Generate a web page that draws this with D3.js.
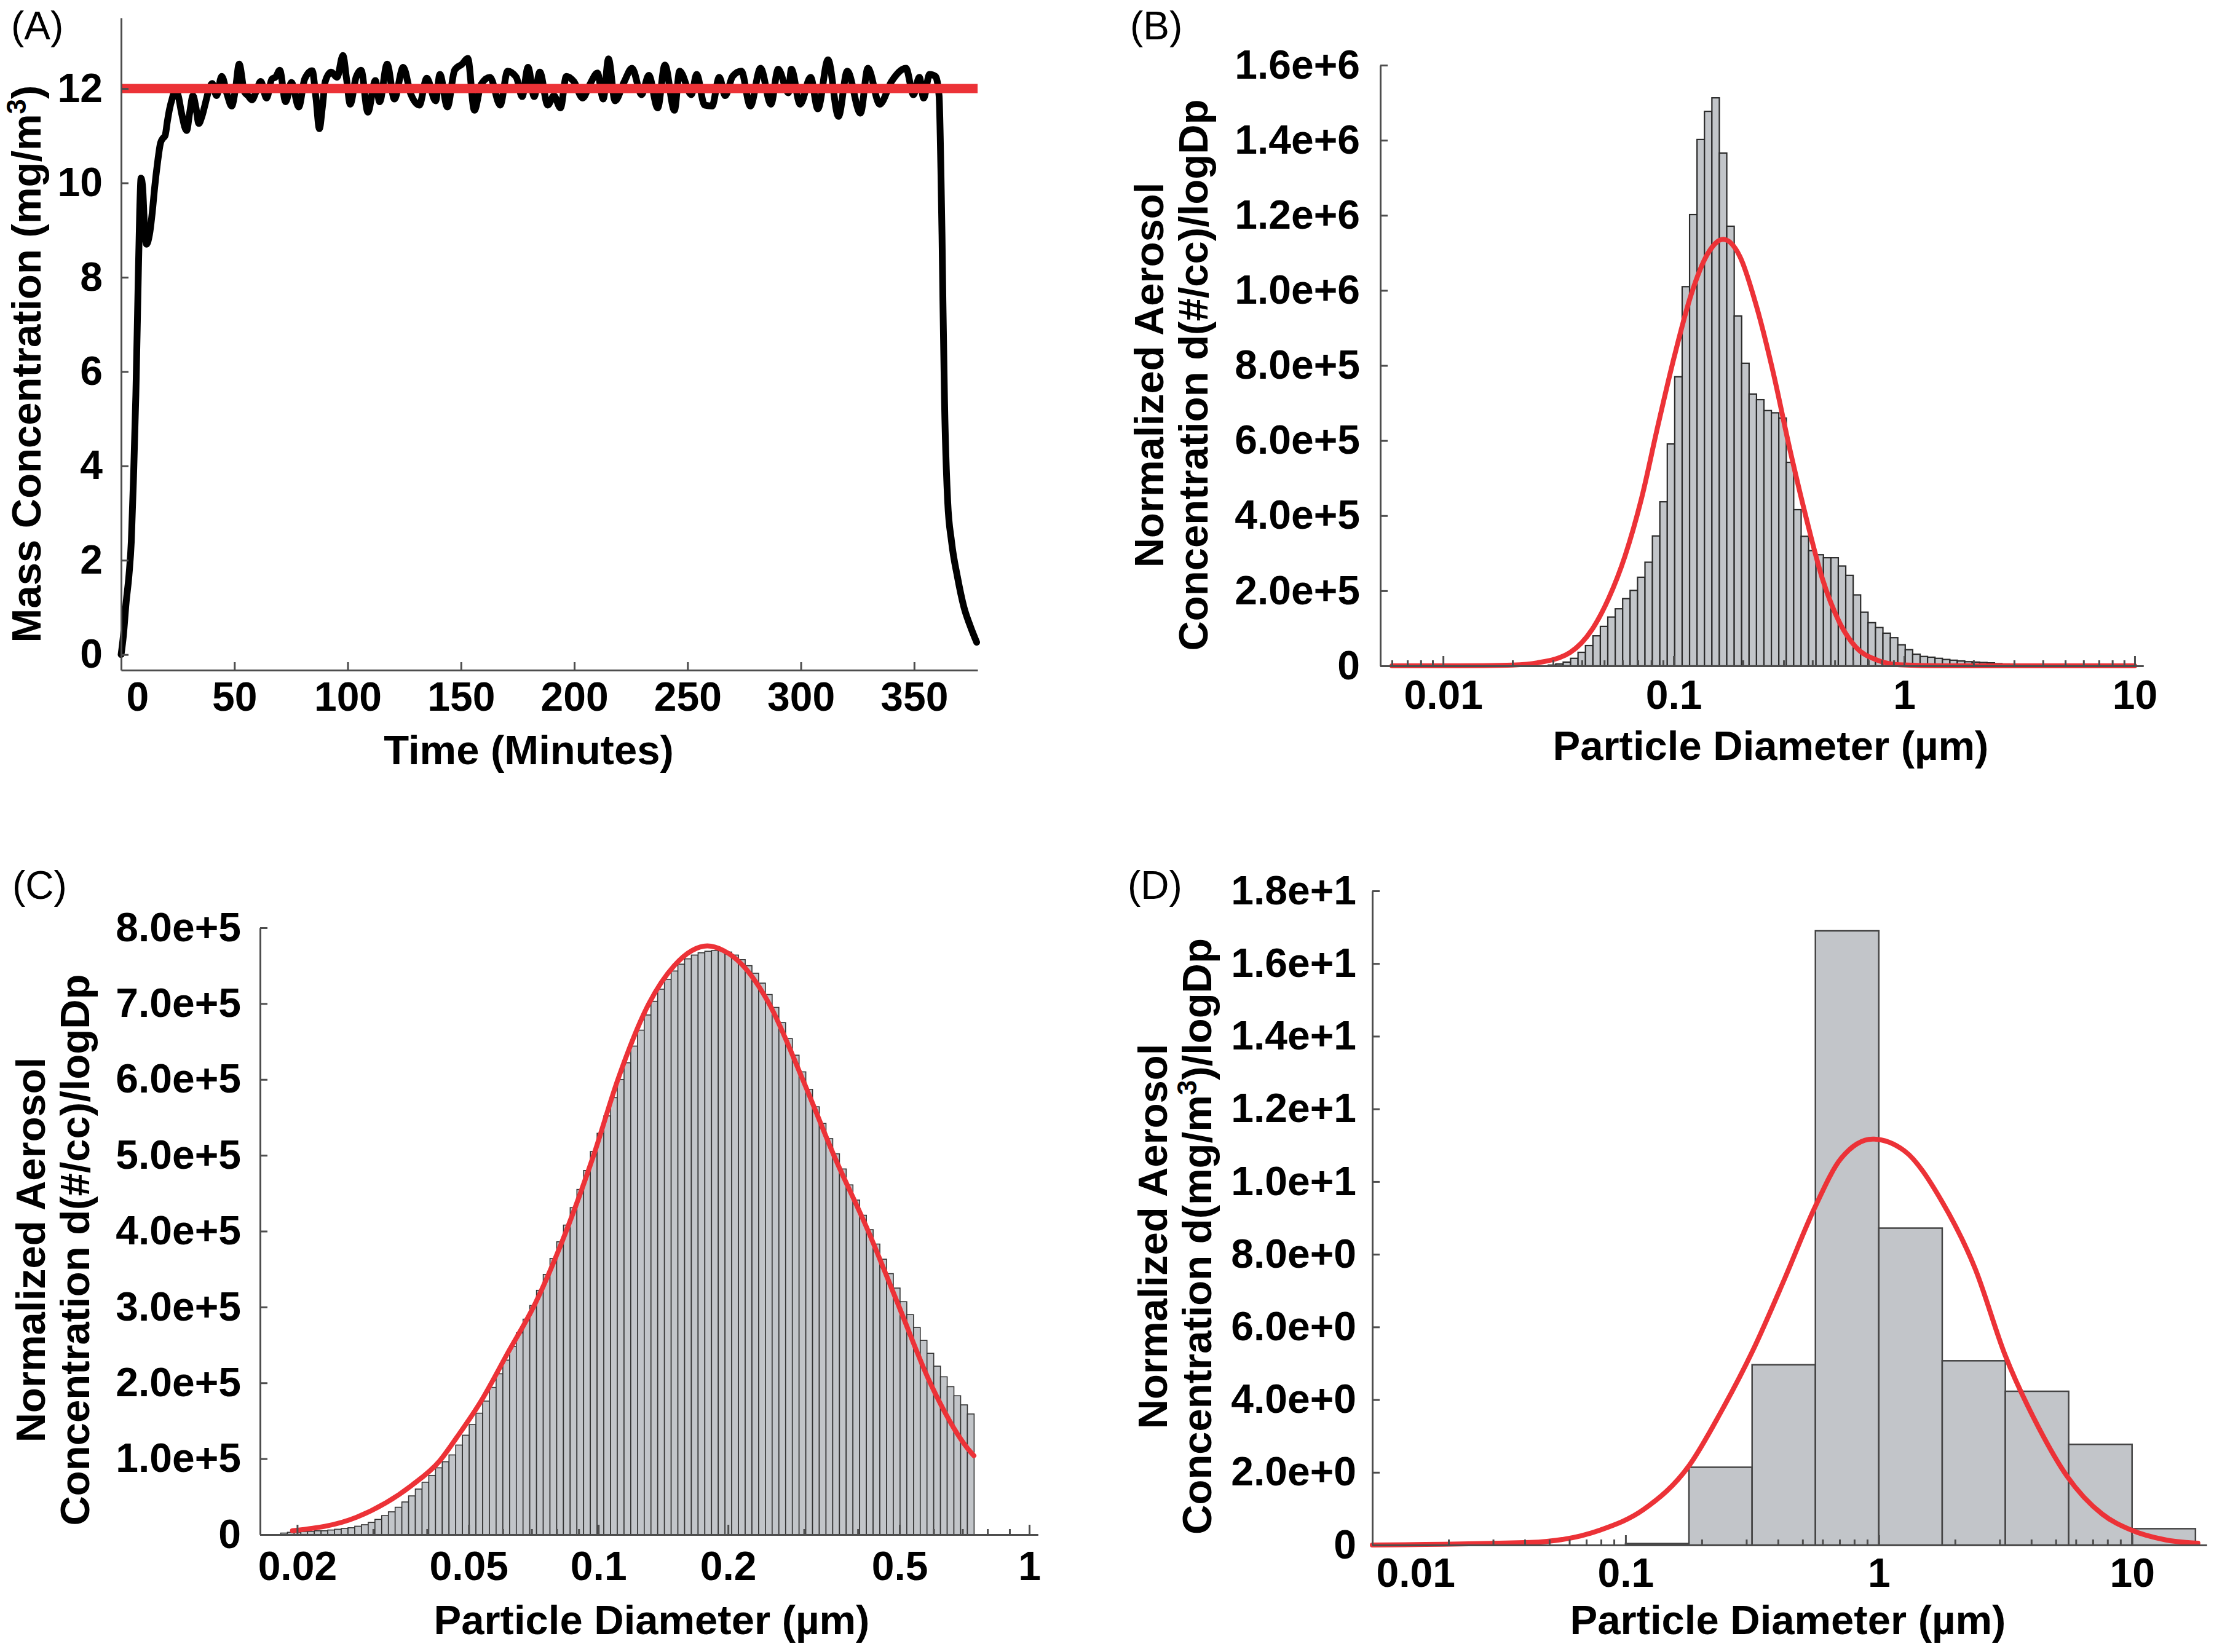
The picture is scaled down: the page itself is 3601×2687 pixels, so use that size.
<!DOCTYPE html>
<html>
<head>
<meta charset="utf-8">
<script src="https://cdn.jsdelivr.net/npm/d3@7"></script>
<style>
  body { margin: 0; background: #fff; }
  svg { display: block; background: #fff; font-family: "Liberation Sans", Arial, sans-serif; }
  .axis path, .axis line { stroke: #4d4d4d; stroke-width: 3; }
  .axis text { font-family: "Liberation Sans", Arial, sans-serif; font-size: 66px; font-weight: bold; fill: #000; }
  .title { font-size: 67px; font-weight: bold; fill: #000; }
  .plabel { font-size: 64px; fill: #000; }
</style>
</head>
<body>
<svg id="fig" width="3601" height="2687"></svg>
<script>
// ---------- (A) mass concentration vs time ----------
const timeMin = [0, 1.0, 2.2, 3.5, 4.5, 5.5, 6.5, 7.4, 8.2, 8.8, 9.5, 10.3, 11.2, 12.5, 13.8, 14.8, 16.0, 17.4, 18.5, 19.4,
  20.4, 21.3, 22.6, 23.9, 25.2, 26.8, 28.9, 30.3, 31.7, 33.0, 34.3, 35.6, 36.9, 38.6, 40.2, 42.1, 44.4, 46.7, 48.8, 50.5,
  52.1, 54.4, 56.0, 57.7, 59.7, 61.6, 64.2, 66.5, 68.3, 70.0, 72.6, 75.2, 78.4, 81.0, 84.3, 86.0, 87.5, 88.8, 90.1, 92.7,
  95.3, 97.9, 99.5, 101.1, 103.7, 105.9, 108.9, 112.2, 114.1, 117.4, 120.6, 124.5, 127.8, 131.6, 134.9, 138.8, 140.7, 144.0,
  147.2, 150.5, 153.0, 155.9, 158.9, 162.8, 167.3, 170.6, 174.4, 177.0, 179.6, 182.3, 184.8, 188.3, 191.0, 193.9, 196.5,
  199.8, 203.7, 206.9, 210.2, 212.8, 215.1, 218.0, 221.9, 225.5, 229.7, 232.9, 236.8, 240.0, 244.2, 246.5, 251.7, 254.0,
  257.5, 260.8, 264.0, 266.6, 269.9, 273.7, 277.7, 282.2, 286.8, 290.0, 294.5, 295.8, 299.7, 304.3, 307.5, 312.0, 316.6,
  320.5, 326.3, 329.6, 334.8, 340.0, 346.4, 349.7, 352.3, 354.2, 356.8, 359.4, 361.0, 361.8, 362.3, 362.7, 363.4, 364.8,
  366.5, 369.1, 372.0, 374.8, 377.6];
const massConc = [0.0, 0.4, 1.1, 1.7, 2.4, 3.8, 5.5, 7.6, 9.4, 10.1, 9.9, 9.1, 8.7, 8.9, 9.4, 9.9, 10.4, 10.85, 10.95, 11.0,
  11.3, 11.55, 11.8, 11.98, 11.85, 11.45, 11.11, 11.5, 11.85, 11.6, 11.26, 11.4, 11.63, 11.95, 12.11, 11.85, 12.26, 11.89, 11.63, 12.0,
  12.52, 11.93, 11.85, 11.76, 11.95, 12.15, 11.80, 12.2, 12.25, 12.39, 11.72, 12.13, 11.61, 12.2, 12.38, 11.8, 11.15, 11.6, 12.15, 12.35,
  12.24, 12.70, 12.2, 11.67, 12.24, 12.39, 11.50, 12.17, 11.72, 12.52, 11.78, 12.45, 11.89, 11.65, 12.22, 11.74, 12.30, 11.61,
  12.39, 12.52, 12.64, 11.54, 12.09, 12.24, 11.65, 12.37, 12.24, 11.83, 12.45, 11.83, 12.35, 11.65, 11.85, 11.59, 12.26,
  12.15, 11.80, 12.09, 12.33, 11.78, 12.63, 11.74, 12.13, 12.43, 11.87, 12.28, 11.59, 12.50, 11.54, 12.37, 11.87, 12.30,
  11.65, 11.63, 12.24, 11.85, 12.26, 12.37, 11.63, 12.43, 11.67, 12.41, 11.91, 12.41, 11.67, 12.24, 11.57, 12.61, 11.41,
  12.37, 11.48, 12.43, 11.67, 12.15, 12.43, 11.87, 12.24, 11.80, 12.30, 12.26, 11.85, 10.3, 8.9, 7.5, 5.4, 3.25,
  2.4, 1.65, 1.0, 0.6, 0.26];
const targetConc = 12;
const timeTicks = [0, 50, 100, 150, 200, 250, 300, 350];
const massTicks = [0, 2, 4, 6, 8, 10, 12];

// ---------- (B) number size distribution, 1e5 #/cc units ----------
const bFirstEdge = 0.0286;
const bBinsPerDecade = 31;
const bCounts = [0.02, 0.05, 0.10, 0.20, 0.36, 0.54, 0.80, 1.05, 1.30, 1.52, 1.79, 2.01, 2.36, 2.76, 3.46, 4.37,
  5.91, 7.70, 10.10, 12.02, 14.02, 14.77, 15.13, 13.66, 11.71, 9.32, 8.06, 7.24, 7.09, 6.80, 6.74, 6.60, 5.42,
  4.16, 3.45, 3.07, 2.96, 2.88, 2.88, 2.66, 2.41, 1.89, 1.43, 1.15, 1.02, 0.87, 0.75, 0.56, 0.43, 0.31, 0.25,
  0.23, 0.20, 0.17, 0.15, 0.13, 0.11, 0.10, 0.09, 0.08, 0.06, 0.05, 0.04, 0.03, 0.02];
const bFitDp = [0.006, 0.010, 0.015, 0.020, 0.0256, 0.0356, 0.0443, 0.0522, 0.0615, 0.0725, 0.0855, 0.1007, 0.119,
  0.140, 0.164, 0.194, 0.229, 0.270, 0.319, 0.376, 0.443, 0.522, 0.615, 0.766, 0.953, 1.5, 3, 10];
const bFitVal = [0, 0, 0.005, 0.02, 0.08, 0.36, 0.97, 1.79, 2.92, 4.45, 6.40, 8.24, 9.88,
  10.96, 11.36, 10.90, 9.57, 7.83, 5.78, 3.94, 2.30, 1.18, 0.51, 0.15, 0.03, 0, 0, 0];
const bTicksX = [0.01, 0.1, 1, 10];
const bTicksY = [0, 2, 4, 6, 8, 10, 12, 14, 16];

// ---------- (C) number size distribution, 1e5 #/cc units ----------
const cFirstEdge = 0.01831;
const cBinsPerDecade = 64;
const cCounts = [0.02, 0.03, 0.03, 0.04, 0.04, 0.05, 0.05, 0.06, 0.07, 0.08,
  0.09, 0.11, 0.13, 0.16, 0.20, 0.25, 0.30, 0.36, 0.43, 0.51,
  0.60, 0.69, 0.78, 0.88, 0.96, 1.05, 1.18, 1.31, 1.45, 1.60,
  1.76, 1.94, 2.12, 2.30, 2.48, 2.66, 2.84, 3.02, 3.22, 3.43,
  3.64, 3.86, 4.08, 4.31, 4.55, 4.80, 5.05, 5.29, 5.52, 5.76,
  6.00, 6.22, 6.44, 6.65, 6.85, 7.03, 7.19, 7.32, 7.43, 7.52,
  7.59, 7.64, 7.67, 7.69, 7.70, 7.70, 7.68, 7.64, 7.58, 7.50,
  7.40, 7.27, 7.12, 6.95, 6.75, 6.54, 6.32, 6.10, 5.87, 5.64,
  5.42, 5.22, 5.02, 4.82, 4.61, 4.41, 4.21, 4.02, 3.83, 3.63,
  3.44, 3.25, 3.07, 2.90, 2.73, 2.56, 2.39, 2.22, 2.08, 1.95,
  1.83, 1.71, 1.59];
const cFitDp = [0.0195, 0.0275, 0.0369, 0.0428, 0.0469, 0.0533, 0.0617, 0.0714, 0.0842, 0.0975, 0.111, 0.131, 0.150, 0.165,
  0.179, 0.195, 0.215, 0.249, 0.298, 0.352, 0.423, 0.499, 0.589, 0.733, 0.744];
const cFitVal = [0.05, 0.23, 0.65, 0.97, 1.28, 1.75, 2.40, 3.05, 4.0, 5.0, 6.0, 7.0, 7.5, 7.70,
  7.76, 7.70, 7.52, 7.0, 6.0, 5.0, 4.0, 3.0, 2.0, 1.08, 1.04];
const cTicksX = [0.02, 0.05, 0.1, 0.2, 0.5, 1];
const cTicksY = [0, 1, 2, 3, 4, 5, 6, 7, 8];

// ---------- (D) mass size distribution, mg/m3 ----------
const dEdges = [0.1, 0.178, 0.316, 0.562, 1, 1.78, 3.16, 5.62, 10, 17.8];
const dMass = [0.04, 2.14, 4.96, 16.9, 8.72, 5.07, 4.23, 2.77, 0.45];
const dFitDp = [0.01, 0.042, 0.080, 0.118, 0.178, 0.238, 0.318, 0.425, 0.560, 0.710, 0.946, 1.26, 1.78,
  2.40, 3.16, 4.28, 5.53, 7.63, 9.86, 13.6, 18.2];
const dFitVal = [0, 0.07, 0.42, 0.98, 2.18, 3.66, 5.35, 7.33, 9.30, 10.64, 11.17, 10.85, 9.44,
  7.61, 5.21, 3.23, 1.90, 0.85, 0.42, 0.14, 0.05];
const dTicksX = [0.01, 0.1, 1, 10];
const dTicksY = [0, 2, 4, 6, 8, 10, 12, 14, 16, 18];

const svg = d3.select("#fig");
const red = "#ec3237";
const barFill = "#c2c5c9";
const sci = k => v => v === 0 ? "0" : (v * k).toExponential(1);

function panelLabel(txt, x, y) {
  svg.append("text").attr("class", "plabel").attr("x", x).attr("y", y).text(txt);
}

function yTitle(lines, x0, yc) {
  lines.forEach((parts, i) => {
    const t = svg.append("text").attr("class", "title")
      .attr("transform", `translate(${x0 + i * 72},${yc}) rotate(-90)`)
      .attr("text-anchor", "middle");
    parts.forEach(p => {
      const s = t.append("tspan").text(p.t);
      if (p.sup) s.attr("baseline-shift", "super").attr("font-size", "44px");
    });
  });
}

function xTitle(txt, xc, y) {
  svg.append("text").attr("class", "title").attr("x", xc).attr("y", y)
    .attr("text-anchor", "middle").text(txt);
}

// ---------- panel A ----------
{
  const x = d3.scaleLinear().domain([0, 378]).range([197, 1590]);
  const y = d3.scaleLinear().domain([-0.33, 13.5]).range([1090, 29]);
  const series = timeMin.map((t, i) => [t, massConc[i]]);

  svg.append("path").datum(series)
    .attr("d", d3.line().x(d => x(d[0])).y(d => y(d[1])).curve(d3.curveMonotoneX))
    .attr("fill", "none").attr("stroke", "#000").attr("stroke-width", 11)
    .attr("stroke-linejoin", "round").attr("stroke-linecap", "round");

  svg.append("line")
    .attr("x1", x(0)).attr("x2", x(378)).attr("y1", y(targetConc)).attr("y2", y(targetConc))
    .attr("stroke", red).attr("stroke-width", 15);

  const gx = svg.append("g").attr("class", "axis").attr("transform", `translate(0,${y(-0.33)})`)
    .call(d3.axisBottom(x).tickValues(timeTicks).tickSizeInner(-13).tickSizeOuter(0).tickPadding(19));
  gx.select(".tick text").attr("text-anchor", "start").attr("x", 8);
  svg.append("g").attr("class", "axis").attr("transform", `translate(${x(0)},0)`)
    .call(d3.axisLeft(y).tickValues(massTicks).tickSizeInner(-12).tickSizeOuter(0).tickPadding(30));

  panelLabel("(A)", 18, 64);
  xTitle("Time (Minutes)", 860, 1243);
  yTitle([[{t: "Mass Concentration (mg/m"}, {t: "3", sup: true}, {t: ")"}]], 66, 592);
}

// ---------- histogram panels ----------
function histPanel(p) {
  const x = d3.scaleLog().domain(p.xDomain).range(p.xRange);
  const y = d3.scaleLinear().domain(p.yDomain).range(p.yRange);

  svg.append("g").selectAll("rect").data(p.bins).join("rect")
    .attr("x", d => x(d.lo)).attr("width", d => x(d.hi) - x(d.lo))
    .attr("y", d => y(d.v)).attr("height", d => y(0) - y(d.v))
    .attr("fill", barFill).attr("stroke", p.barStroke).attr("stroke-width", p.barStrokeW);

  svg.append("path").datum(p.fit)
    .attr("d", d3.line().x(d => x(d[0])).y(d => y(d[1])).curve(d3.curveMonotoneX))
    .attr("fill", "none").attr("stroke", red).attr("stroke-width", 8)
    .attr("stroke-linejoin", "round").attr("stroke-linecap", "round");

  // minor log ticks
  const minors = [];
  for (let e = -3; e <= 1; e++) {
    for (let m = 1; m <= 9; m++) {
      const v = m * Math.pow(10, e);
      if (v >= p.xDomain[0] && v <= p.xDomain[1] &&
          !p.xTicks.some(t => Math.abs(t - v) / t < 1e-6)) minors.push(v);
    }
  }
  const base = y(p.yDomain[0]);
  svg.append("g").attr("class", "axis").attr("transform", `translate(0,${base})`)
    .call(d3.axisBottom(x).tickValues(minors).tickFormat("").tickSizeInner(-9).tickSizeOuter(0));

  const gx = svg.append("g").attr("class", "axis").attr("transform", `translate(0,${base})`)
    .call(d3.axisBottom(x).tickValues(p.xTicks).tickFormat(d => String(d))
      .tickSizeInner(-16).tickSizeOuter(0).tickPadding(p.xPad));
  if (p.firstStart) gx.select(".tick text").attr("text-anchor", "start").attr("x", 6);

  svg.append("g").attr("class", "axis").attr("transform", `translate(${p.xRange[0]},0)`)
    .call(d3.axisLeft(y).tickValues(p.yTicks).tickFormat(p.yFmt)
      .tickSizeInner(-12).tickSizeOuter(0).tickPadding(p.yPad));
}

const logBins = (first, perDec, vals) => vals.map((v, i) => ({
  lo: first * Math.pow(10, i / perDec), hi: first * Math.pow(10, (i + 1) / perDec), v
}));

// (B)
histPanel({
  xDomain: [0.00534, 10.9], xRange: [2245, 3486],
  yDomain: [0, 16], yRange: [1083, 106],
  bins: logBins(bFirstEdge, bBinsPerDecade, bCounts),
  fit: bFitDp.map((d, i) => [d, bFitVal[i]]),
  xTicks: bTicksX, yTicks: bTicksY, yFmt: sci(1e5),
  xPad: 23, yPad: 33, barStroke: "#2b2b2b", barStrokeW: 2.2
});
panelLabel("(B)", 1838, 64);
xTitle("Particle Diameter (µm)", 2880, 1236);
yTitle([[{t: "Normalized Aerosol"}], [{t: "Concentration d(#/cc)/logDp"}]], 1892, 610);

// (C)
histPanel({
  xDomain: [0.0164, 1.047], xRange: [423, 1688],
  yDomain: [0, 8], yRange: [2496, 1509],
  bins: logBins(cFirstEdge, cBinsPerDecade, cCounts),
  fit: cFitDp.map((d, i) => [d, cFitVal[i]]),
  xTicks: cTicksX, yTicks: cTicksY, yFmt: sci(1e5),
  xPad: 27, yPad: 31, barStroke: "#333", barStrokeW: 1.6
});
panelLabel("(C)", 20, 1462);
xTitle("Particle Diameter (µm)", 1060, 2658);
yTitle([[{t: "Normalized Aerosol"}], [{t: "Concentration d(#/cc)/logDp"}]], 73, 2033);

// (D)
histPanel({
  xDomain: [0.01, 19.7], xRange: [2232, 3589],
  yDomain: [0, 18], yRange: [2513, 1449],
  bins: dMass.map((v, i) => ({lo: dEdges[i], hi: dEdges[i + 1], v})),
  fit: dFitDp.map((d, i) => [d, dFitVal[i]]),
  xTicks: dTicksX, yTicks: dTicksY, yFmt: sci(1),
  xPad: 21, yPad: 26, barStroke: "#444", barStrokeW: 2.5, firstStart: true
});
panelLabel("(D)", 1834, 1462);
xTitle("Particle Diameter (µm)", 2908, 2658);
yTitle([[{t: "Normalized Aerosol"}], [{t: "Concentration d(mg/m"}, {t: "3", sup: true}, {t: ")/logDp"}]], 1898, 2011);
</script>
</body>
</html>
